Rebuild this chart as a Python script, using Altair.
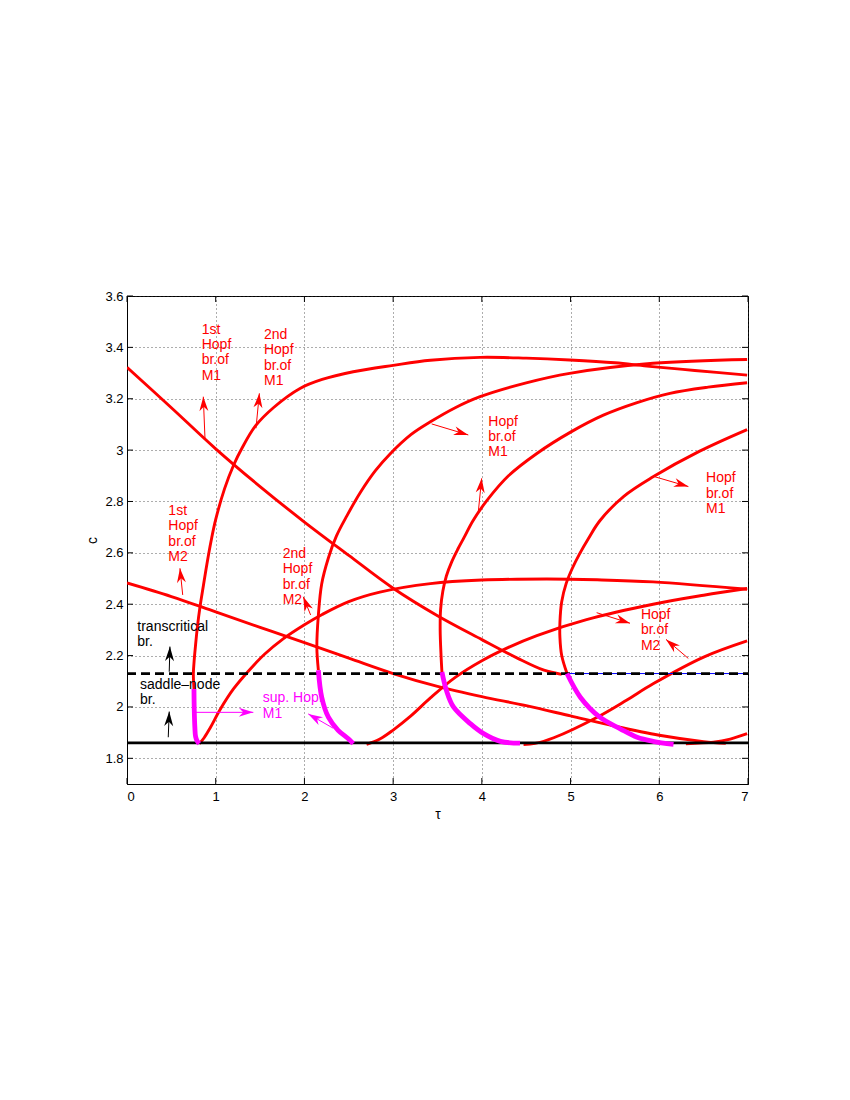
import math
import altair as alt
import pandas as pd

W, H = 621, 488
X_DOM = [0, 7]
Y_DOM = [1.7, 3.6]
FONT = "Liberation Sans"

x_ticks = [0, 1, 2, 3, 4, 5, 6, 7]
y_ticks = [1.8, 2.0, 2.2, 2.4, 2.6, 2.8, 3.0, 3.2, 3.4, 3.6]

# ---------------- curves (tau, c) ----------------
c1_red_tau = [0.755, 0.748, 0.757, 0.767, 0.793, 0.823, 0.86, 0.90, 0.95, 1.0, 1.1, 1.2, 1.3, 1.45, 1.65, 1.95, 2.2, 2.55, 3.0, 3.42, 3.98, 4.5, 4.99, 5.5, 5.86, 6.4, 6.99]
c1_red_c = [2.07, 2.13, 2.18, 2.22, 2.31, 2.39, 2.47, 2.555, 2.65, 2.73, 2.85, 2.94, 3.01, 3.095, 3.165, 3.24, 3.275, 3.305, 3.33, 3.35, 3.361, 3.358, 3.351, 3.34, 3.327, 3.31, 3.292]
c1_mag_tau = [0.815, 0.79, 0.773, 0.765, 0.758, 0.755]
c1_mag_c = [1.857, 1.868, 1.885, 1.92, 1.99, 2.07]

u1_tau = [0.815, 0.87, 0.94, 1.05, 1.2, 1.37, 1.55, 1.76, 2.0, 2.2, 2.5, 2.85, 3.42, 4.0, 4.73, 5.3, 5.93, 6.99]
u1_c = [1.857, 1.88, 1.92, 1.99, 2.07, 2.14, 2.205, 2.265, 2.32, 2.36, 2.41, 2.447, 2.48, 2.494, 2.498, 2.495, 2.487, 2.458]

d1_tau = [0.0, 0.5, 1.0, 1.5, 2.0, 2.5, 3.0, 3.5, 4.0, 4.4, 4.7, 4.9]
d1_c = [3.322, 3.165, 3.005, 2.858, 2.72, 2.59, 2.462, 2.355, 2.262, 2.19, 2.143, 2.127]

d2_tau = [0.0, 0.5, 1.0, 1.5, 2.0, 2.5, 3.0, 3.5, 4.0, 4.5, 5.0, 5.5, 6.0, 6.5, 6.75]
d2_c = [2.483, 2.43, 2.37, 2.31, 2.25, 2.19, 2.13, 2.08, 2.04, 2.005, 1.965, 1.925, 1.89, 1.865, 1.858]

c2_mag_tau = [2.55, 2.495, 2.38, 2.27, 2.195, 2.157]
c2_mag_c = [1.857, 1.876, 1.909, 1.96, 2.038, 2.143]
c2_red_tau = [2.157, 2.14, 2.157, 2.195, 2.27, 2.36, 2.48, 2.63, 2.8, 2.965, 3.2, 3.42, 3.7, 3.98, 4.5, 4.99, 5.93, 6.99]
c2_red_c = [2.143, 2.233, 2.357, 2.48, 2.58, 2.665, 2.745, 2.835, 2.92, 2.985, 3.06, 3.11, 3.165, 3.208, 3.262, 3.299, 3.338, 3.353]

c3_mag_tau = [4.43, 4.21, 4.02, 3.87, 3.68, 3.6, 3.55]
c3_mag_c = [1.859, 1.866, 1.896, 1.935, 2.0, 2.065, 2.136]
c3_red_tau = [3.55, 3.54, 3.53, 3.535, 3.56, 3.60, 3.66, 3.73, 3.80, 3.9, 4.06, 4.3, 4.62, 5.0, 5.37, 5.75, 6.12, 6.55, 6.99]
c3_red_c = [2.136, 2.2, 2.3, 2.38, 2.45, 2.51, 2.565, 2.615, 2.66, 2.725, 2.805, 2.9, 2.987, 3.07, 3.136, 3.185, 3.221, 3.245, 3.262]

c4_mag_tau = [6.16, 5.93, 5.75, 5.56, 5.33, 5.11, 4.96]
c4_mag_c = [1.854, 1.866, 1.882, 1.915, 1.96, 2.038, 2.13]
c4_red_tau = [4.96, 4.90, 4.88, 4.88, 4.90, 4.95, 5.02, 5.1, 5.2, 5.33, 5.6, 5.93, 6.45, 6.99]
c4_red_c = [2.13, 2.2, 2.27, 2.33, 2.41, 2.48, 2.54, 2.595, 2.655, 2.725, 2.82, 2.896, 2.995, 3.08]

u2_tau = [2.70, 2.85, 3.0, 3.2, 3.42, 3.7, 4.0, 4.3, 4.62, 5.18, 5.93, 6.5, 6.99]
u2_c = [1.854, 1.875, 1.91, 1.965, 2.035, 2.115, 2.18, 2.232, 2.278, 2.34, 2.40, 2.435, 2.461]

u3_tau = [4.47, 4.6, 4.81, 5.3, 5.63, 5.93, 6.5, 6.99]
u3_c = [1.854, 1.858, 1.88, 1.96, 2.026, 2.09, 2.194, 2.257]

u4_tau = [6.3, 6.61, 6.8, 6.99]
u4_c = [1.857, 1.863, 1.875, 1.896]

# bifurcation levels
saddle_node_c = 1.86
transcritical_c = 2.13
blue_from_tau = 4.96

# ---------------- annotations ----------------
ann_lines = [
    ["1st", "Hopf", "br.of", "M1"],
    ["2nd", "Hopf", "br.of", "M1"],
    ["Hopf", "br.of", "M1"],
    ["Hopf", "br.of", "M1"],
    ["1st", "Hopf", "br.of", "M2"],
    ["2nd", "Hopf", "br.of", "M2"],
    ["transcritical", "br."],
    ["saddle\u2013node", "br."],
    ["sup. Hopf", "M1"],
    ["Hopf", "br.of", "M2"],
]
ann_tau = [0.842, 1.544, 4.073, 6.527, 0.466, 1.755, 0.116, 0.147, 1.530, 5.793]
ann_c = [3.468, 3.448, 3.111, 2.890, 2.763, 2.595, 2.312, 2.085, 2.033, 2.358]
ann_col = ["#ff0000"] * 6 + ["#000000", "#000000", "#ff00ff", "#ff0000"]
LINE_STEP_C = 0.0595

# arrows: tail -> tip
arr_tail_tau = [0.879, 1.454, 3.434, 3.960, 5.952, 0.628, 2.070, 0.476, 0.465, 0.766, 2.325, 5.294, 6.327]
arr_tail_c = [3.046, 3.085, 3.102, 2.760, 2.896, 2.436, 2.358, 2.137, 1.882, 1.979, 1.917, 2.367, 2.189]
arr_tip_tau = [0.860, 1.492, 3.847, 3.998, 6.328, 0.597, 1.987, 0.484, 0.476, 1.424, 2.043, 5.670, 6.076]
arr_tip_c = [3.208, 3.221, 3.059, 2.890, 2.858, 2.540, 2.429, 2.235, 1.982, 1.979, 1.973, 2.326, 2.263]
arr_col = ["#ff0000"] * 7 + ["#000000", "#000000", "#ff00ff", "#ff00ff", "#ff0000", "#ff0000"]

# ---------------- tables ----------------
curves = [
    ("c1r", "red", c1_red_tau, c1_red_c),
    ("u1", "red", u1_tau, u1_c),
    ("d1", "red", d1_tau, d1_c),
    ("d2", "red", d2_tau, d2_c),
    ("c2r", "red", c2_red_tau, c2_red_c),
    ("c3r", "red", c3_red_tau, c3_red_c),
    ("c4r", "red", c4_red_tau, c4_red_c),
    ("u2", "red", u2_tau, u2_c),
    ("u3", "red", u3_tau, u3_c),
    ("u4", "red", u4_tau, u4_c),
    ("c1m", "mag", c1_mag_tau, c1_mag_c),
    ("c2m", "mag", c2_mag_tau, c2_mag_c),
    ("c3m", "mag", c3_mag_tau, c3_mag_c),
    ("c4m", "mag", c4_mag_tau, c4_mag_c),
]
rows = []
for name, kind, tl, cl in curves:
    for i, (t, c) in enumerate(zip(tl, cl)):
        rows.append(dict(curve=name, kind=kind, tau=t, c=c, ord=i))
df = pd.DataFrame(rows)

txt_rows = []
for lines, t, c, col in zip(ann_lines, ann_tau, ann_c, ann_col):
    for j, s in enumerate(lines):
        txt_rows.append(dict(label=s, tau=t, c=c - j * LINE_STEP_C, col=col))
df_txt = pd.DataFrame(txt_rows)

px_tau = W / (X_DOM[1] - X_DOM[0])
px_c = H / (Y_DOM[1] - Y_DOM[0])
arr_rows = []
for tt, tc, ht, hc, col in zip(arr_tail_tau, arr_tail_c, arr_tip_tau, arr_tip_c, arr_col):
    dx = (ht - tt) * px_tau
    dy = -(hc - tc) * px_c
    ang = math.degrees(math.atan2(dx, -dy)) % 360
    arr_rows.append(dict(tau=tt, c=tc, tau2=ht, c2=hc, ang=ang, col=col))
df_arr = pd.DataFrame(arr_rows)

df_h = pd.DataFrame({"tau": [X_DOM[0]], "tau2": [X_DOM[1]], "sn": [saddle_node_c], "tc": [transcritical_c],
                     "bt": [blue_from_tau]})

x_scale = alt.Scale(domain=X_DOM, nice=False, zero=False)
y_scale = alt.Scale(domain=Y_DOM, nice=False, zero=False)

common_axis = dict(
    grid=True, ticks=False, format="~g",
    domainColor="black", domainWidth=1,
    labelFont=FONT, labelFontSize=13, labelColor="black",
    gridColor="#333333", gridDash=[1, 3], gridWidth=1, gridOpacity=0.8,
    titleFontSize=14, titleFontWeight="normal", titleFont=FONT, titleColor="black",
)
x_axis = alt.Axis(values=x_ticks, title="\u03c4", labelPadding=6, titleY=30,
                  titleBaseline="middle", **common_axis)
y_axis = alt.Axis(values=y_ticks, title="c", labelPadding=4, titleX=-35, titleY=H / 2,
                  titleBaseline="middle", **common_axis)


def X(field):
    return alt.X(field, scale=x_scale, axis=x_axis)


def Y(field):
    return alt.Y(field, scale=y_scale, axis=y_axis)


base = alt.Chart(df)

red = base.transform_filter(alt.datum.kind == "red").mark_line(
    color="#ff0000", strokeWidth=2.9, interpolate="catmull-rom", clip=True
).encode(x=X("tau:Q"), y=Y("c:Q"), detail="curve:N", order="ord:Q")

mag = base.transform_filter(alt.datum.kind == "mag").mark_line(
    color="#ff00ff", strokeWidth=4.8, interpolate="catmull-rom", clip=True
).encode(x=X("tau:Q"), y=Y("c:Q"), detail="curve:N", order="ord:Q")

hbase = alt.Chart(df_h)
blue = hbase.mark_rule(color="#0000ff", strokeWidth=1).encode(
    x=X("bt:Q"), x2="tau2:Q", y=Y("tc:Q"))
dashed = hbase.mark_rule(color="black", strokeWidth=2.8, strokeDash=[9, 5]).encode(
    x=X("tau:Q"), x2="tau2:Q", y=Y("tc:Q"))
solid = hbase.mark_rule(color="black", strokeWidth=2.8).encode(
    x=X("tau:Q"), x2="tau2:Q", y=Y("sn:Q"))

shafts = alt.Chart(df_arr).mark_rule(strokeWidth=1).encode(
    x=X("tau:Q"), x2="tau2:Q", y=Y("c:Q"), y2="c2:Q",
    color=alt.Color("col:N", scale=None),
)
heads = alt.Chart(df_arr).mark_point(
    shape="M0,0L-0.62,2L0,1.4L0.62,2Z", filled=True, size=210, opacity=1, strokeWidth=0
).encode(
    x=X("tau2:Q"), y=Y("c2:Q"),
    angle=alt.Angle("ang:Q", scale=None),
    color=alt.Color("col:N", scale=None),
)

texts = alt.Chart(df_txt).mark_text(
    align="left", baseline="middle", fontSize=14, font=FONT
).encode(
    x=X("tau:Q"), y=Y("c:Q"),
    text="label:N",
    color=alt.Color("col:N", scale=None),
)

df_xt = pd.DataFrame({"t": x_ticks})
df_yt = pd.DataFrame({"t": y_ticks})
xt_bot = alt.Chart(df_xt).mark_rule(color="black", strokeWidth=1).encode(
    x=X("t:Q"), y=alt.value(H), y2=alt.value(H - 6))
xt_top = alt.Chart(df_xt).mark_rule(color="black", strokeWidth=1).encode(
    x=X("t:Q"), y=alt.value(0), y2=alt.value(6))
yt_left = alt.Chart(df_yt).mark_rule(color="black", strokeWidth=1).encode(
    y=Y("t:Q"), x=alt.value(0), x2=alt.value(6))
yt_right = alt.Chart(df_yt).mark_rule(color="black", strokeWidth=1).encode(
    y=Y("t:Q"), x=alt.value(W), x2=alt.value(W - 6))

chart = alt.layer(
    red, blue, dashed, solid, mag, shafts, heads, texts,
    xt_bot, xt_top, yt_left, yt_right
).properties(
    width=W, height=H,
    padding={"left": 119, "top": 288, "right": 80, "bottom": 300},
    autosize=alt.AutoSizeParams(type="none"),
    background="white",
).configure_view(
    stroke="black", strokeWidth=1
)

chart.save("out.html", embed_options={"renderer": "svg", "actions": False})
